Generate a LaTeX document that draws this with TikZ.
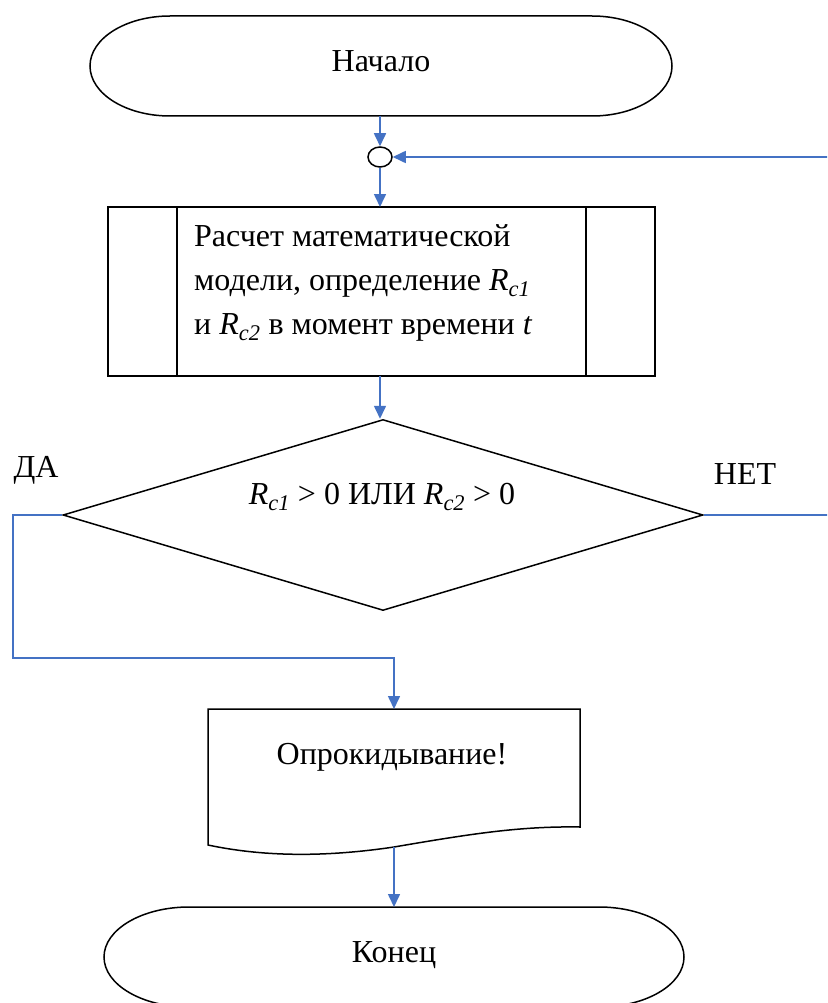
\documentclass[tikz,border=0pt]{standalone}
\usepackage{fontspec}
\setmainfont{Liberation Serif}
\usetikzlibrary{arrows.meta,shapes.geometric,calc}
\definecolor{flowblue}{RGB}{68,114,196}
\tikzset{
  outline/.style={draw=black, line width=1.5pt},
  flow/.style={draw=flowblue, line width=1.6pt, -{Triangle[width=12pt,length=13pt]}},
  lbl/.style={font=\fontsize{32}{40}\selectfont, inner sep=0pt},
  box/.style={inner sep=0pt, outer sep=0pt, draw=none, rectangle},
}
\newcommand{\Rsub}[1]{\textit{R}\textsubscript{\textit{#1}}}
\begin{document}
\begin{tikzpicture}[x=1pt,y=-1pt]
\useasboundingbox (0,0) rectangle (827,1003);
\fill[white] (0,0) rectangle (827,1003);

% start terminal
\node[box, minimum width=582pt, minimum height=100pt] (start) at (381,66) {};
\draw[outline] ([xshift=80pt]start.north west) -- ([xshift=-80pt]start.north east)
  arc[start angle=90,end angle=-90,x radius=80pt,y radius=50pt]
  -- ([xshift=80pt]start.south west)
  arc[start angle=270,end angle=90,x radius=80pt,y radius=50pt] -- cycle;
\node[lbl, anchor=base] (starttxt) at (381,72) {Начало};

% connector circle
\node[ellipse, draw=black, line width=1.5pt, minimum width=24pt, minimum height=20pt, inner sep=0pt] (conn) at (380,157) {};

% process box
\node[box, draw=black, line width=1.5pt, minimum width=547pt, minimum height=169pt] (proc) at (381.5,291.5) {};
\draw[outline] ([xshift=69pt]proc.north west) -- ([xshift=69pt]proc.south west);
\draw[outline] ([xshift=-69pt]proc.north east) -- ([xshift=-69pt]proc.south east);
\node[lbl, anchor=base west] (p1) at (194,246) {Расчет математической};
\node[lbl, anchor=base west] (p2) at (194,290) {модели, определение \Rsub{c1}};
\node[lbl, anchor=base west] (p3) at (194,334) {и \Rsub{c2} в момент времени \textit{t}};

% decision
\node[diamond, draw=black, line width=1.5pt, minimum width=640pt, minimum height=191pt, inner sep=0pt] (dec) at (383,515) {};
\node[lbl, anchor=base] (dectxt) at (382,504) {\Rsub{c1} > 0 ИЛИ \Rsub{c2} > 0};
\node[lbl, anchor=base] (yes) at (36,477) {ДА};
\node[lbl, anchor=base] (no) at (745,484) {НЕТ};

% document
\node[box, minimum width=372pt, minimum height=136pt] (doc) at (394,777) {};
\draw[outline] (doc.south west) -- (doc.north west) -- (doc.north east) -- (580,827)
  .. controls (520,826) and (470,834) .. (394,847)
  .. controls (320,858) and (260,856) .. (doc.south west) -- cycle;
\node[lbl, anchor=base] (doctxt) at (392,764) {Опрокидывание!};
\coordinate (docout) at (394,847);

% end terminal
\node[box, minimum width=580pt, minimum height=100pt] (end) at (394,957) {};
\draw[outline] ([xshift=85pt]end.north west) -- ([xshift=-85pt]end.north east)
  arc[start angle=90,end angle=-90,x radius=85pt,y radius=50pt]
  -- ([xshift=85pt]end.south west)
  arc[start angle=270,end angle=90,x radius=85pt,y radius=50pt] -- cycle;
\node[lbl, anchor=base] (endtxt) at (394,962) {Конец};

% connectors
\draw[flow] (start.south -| conn.north) -- (conn.north);
\draw[flow] (conn.south) -- (conn.south |- proc.north);
\draw[flow] (proc.south -| conn.south) -- (conn.south |- dec.north);
\coordinate (yesL) at (13,515);
\coordinate (yesB) at (13,658);
\draw[flow] (dec.west) -- (yesL) -- (yesB) -- (yesB -| doc.north) -- (doc.north);
\draw[flow] (docout) -- (docout |- end.north);
\begin{scope}
  \clip (0,0) rectangle (827,1003);
  \coordinate (loopR) at (840,515);
  \draw[flow] (dec.east) -- (loopR) -- (loopR |- conn.east) -- (conn.east);
\end{scope}
\end{tikzpicture}
\end{document}
